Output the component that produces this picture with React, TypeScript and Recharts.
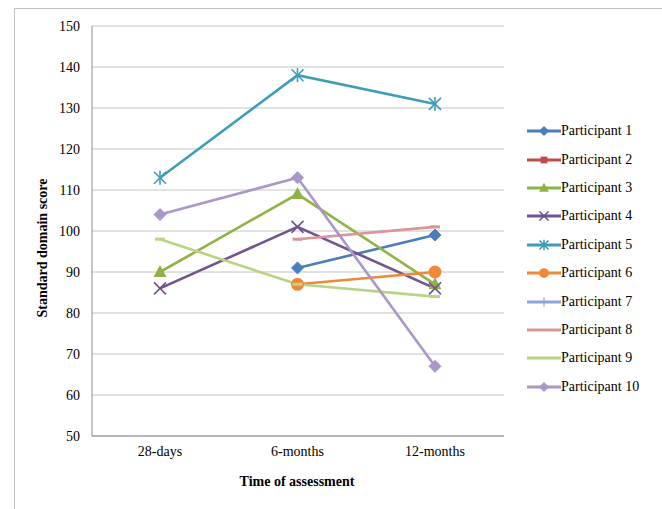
import React from 'react';
import { LineChart, Line, XAxis, YAxis, CartesianGrid, Label } from 'recharts';

const categories = ['28-days', '6-months', '12-months'];
const participantNames = [
  'Participant 1', 'Participant 2', 'Participant 3', 'Participant 4', 'Participant 5',
  'Participant 6', 'Participant 7', 'Participant 8', 'Participant 9', 'Participant 10',
];
const p1 = [null, 91, 99];
const p2 = [null, null, null];
const p3 = [90, 109, 87];
const p4 = [86, 101, 86];
const p5 = [113, 138, 131];
const p6 = [null, 87, 90];
const p7 = [null, null, null];
const p8 = [null, 98, 101];
const p9 = [98, 87, 84];
const p10 = [104, 113, 67];
const yTicks = [50, 60, 70, 80, 90, 100, 110, 120, 130, 140, 150];

const seriesValues = [p1, p2, p3, p4, p5, p6, p7, p8, p9, p10];
const colors = ['#4A7EBB', '#BE4B48', '#8FB347', '#71538F', '#3E9DB8', '#F0883A', '#8EA6D6', '#D9959A', '#B7D483', '#A997C7'];
const markers = ['diamond', 'square', 'triangle', 'x', 'asterisk', 'circle', 'plus', 'dash', 'dash', 'diamond'];

const data = categories.map((c, i) => {
  const row: any = { category: c };
  seriesValues.forEach((s, j) => {
    row[`p${j + 1}`] = s[i];
  });
  return row;
});

const FONT = '"Liberation Serif", "Times New Roman", serif';

function Marker({ shape, cx, cy, color, s = 1 }: any) {
  switch (shape) {
    case 'diamond':
      return <path d={`M${cx},${cy - 6 * s}L${cx + 6 * s},${cy}L${cx},${cy + 6 * s}L${cx - 6 * s},${cy}Z`} fill={color} stroke={color} />;
    case 'square':
      return <rect x={cx - 4.5 * s} y={cy - 4.5 * s} width={9 * s} height={9 * s} fill={color} />;
    case 'triangle':
      return <path d={`M${cx},${cy - 7 * s}L${cx + 6.5 * s},${cy + 5 * s}L${cx - 6.5 * s},${cy + 5 * s}Z`} fill={color} />;
    case 'x':
      return (
        <g stroke={color} strokeWidth={1.6}>
          <line x1={cx - 6 * s} y1={cy - 6 * s} x2={cx + 6 * s} y2={cy + 6 * s} />
          <line x1={cx - 6 * s} y1={cy + 6 * s} x2={cx + 6 * s} y2={cy - 6 * s} />
        </g>
      );
    case 'asterisk':
      return (
        <g stroke={color} strokeWidth={1.6}>
          <line x1={cx - 6 * s} y1={cy - 6 * s} x2={cx + 6 * s} y2={cy + 6 * s} />
          <line x1={cx - 6 * s} y1={cy + 6 * s} x2={cx + 6 * s} y2={cy - 6 * s} />
          <line x1={cx} y1={cy - 7 * s} x2={cx} y2={cy + 7 * s} />
        </g>
      );
    case 'circle':
      return <circle cx={cx} cy={cy} r={6.5 * s} fill={color} />;
    case 'plus':
      return (
        <g stroke={color} strokeWidth={1.2}>
          <line x1={cx} y1={cy - 6 * s} x2={cx} y2={cy + 6 * s} />
        </g>
      );
    case 'dash':
      return <line x1={cx - 5 * s} y1={cy} x2={cx + 5 * s} y2={cy} stroke={color} strokeWidth={3} />;
    default:
      return null;
  }
}

function makeDot(shape: string, color: string) {
  return (props: any) => {
    const { cx, cy, key, value } = props;
    if (cx == null || cy == null || value == null || Number.isNaN(cy)) return <g key={key} />;
    return (
      <g key={key}>
        <Marker shape={shape} cx={cx} cy={cy} color={color} />
      </g>
    );
  };
}

function LegendBlock() {
  return (
    <div style={{ position: 'absolute', left: 526, top: 117, width: 136, fontFamily: FONT, fontSize: 14, color: '#000' }}>
      {participantNames.map((name, i) => (
        <div key={name} style={{ display: 'flex', alignItems: 'center', height: 28.4, whiteSpace: 'nowrap' }}>
          <svg width={35} height={16} style={{ display: 'block' }}>
            <line x1={1} y1={8} x2={35} y2={8} stroke={colors[i]} strokeWidth={3} />
            <Marker shape={markers[i] === 'dash' ? 'none' : markers[i]} cx={18} cy={8} color={colors[i]} s={0.75} />
          </svg>
          <span>{name}</span>
        </div>
      ))}
    </div>
  );
}

export default function App() {
  return (
    <div style={{ position: 'absolute', left: 0, top: 0, width: 662, height: 509, overflow: 'hidden', background: '#fff' }}>
      <div
        style={{
          position: 'absolute', left: 14, top: 8, width: 700, height: 600,
          borderLeft: '1px solid #BFBFBF', borderTop: '1px solid #BFBFBF',
        }}
      />
      <div style={{ position: 'absolute', left: 0, top: 0 }}>
        <LineChart
          width={662}
          height={509}
          data={data}
          margin={{ top: 26, right: 158, bottom: 43, left: 0 }}
        >
          <CartesianGrid vertical={false} stroke="#C4C4C4" strokeWidth={1} />
          <XAxis
            dataKey="category"
            padding={{ left: 68, right: 69 }}
            height={30}
            axisLine={{ stroke: '#8C8C8C' }}
            tickLine={false}
            tickSize={0}
            tickMargin={10}
            tick={{ fill: '#000', fontFamily: FONT, fontSize: 14 }}
          >
            <Label
              content={() => (
                <text x={297} y={486} textAnchor="middle" fontFamily={FONT} fontSize={14} fontWeight="bold" fill="#000">
                  Time of assessment
                </text>
              )}
            />
          </XAxis>
          <YAxis
            domain={[50, 150]}
            ticks={yTicks}
            interval={0}
            width={92}
            axisLine={{ stroke: '#8C8C8C' }}
            tickLine={false}
            tickSize={0}
            tickMargin={12}
            tick={{ fill: '#000', fontFamily: FONT, fontSize: 14 }}
          >
            <Label
              content={() => (
                <text
                  x={47}
                  y={248}
                  transform="rotate(-90 47 248)"
                  textAnchor="middle"
                  fontFamily={FONT}
                  fontSize={14}
                  fontWeight="bold"
                  fill="#000"
                >
                  Standard domain score
                </text>
              )}
            />
          </YAxis>
          {participantNames.map((name, i) => (
            <Line
              key={name}
              name={name}
              dataKey={`p${i + 1}`}
              stroke={colors[i]}
              strokeWidth={2.6}
              dot={makeDot(markers[i], colors[i])}
              activeDot={false}
              isAnimationActive={false}
            />
          ))}
        </LineChart>
      </div>
      <LegendBlock />
    </div>
  );
}
